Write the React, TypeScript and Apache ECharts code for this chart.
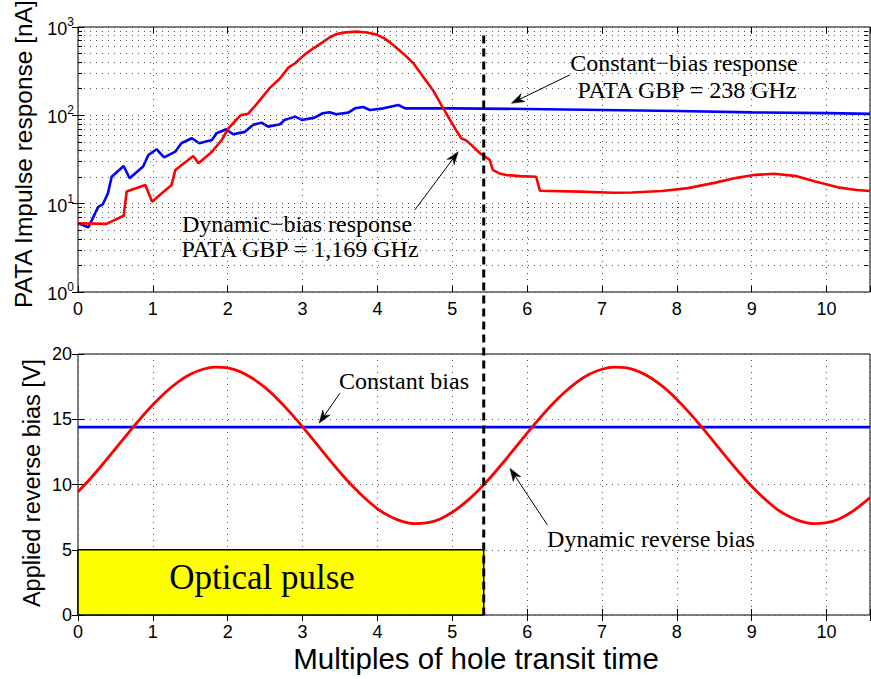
import React, { useEffect, useRef } from "react";
import * as echarts from "echarts";

const SANS = '"Liberation Sans", Arial, Helvetica, sans-serif';
const SERIF = '"Liberation Serif", "Times New Roman", Times, serif';

// Shared horizontal axis: multiples of hole transit time
const TIME_MAX = 10.58;
const TIME_STEP = 1;

// Upper panel: PATA impulse response [nA] on a log scale
const RESP_MIN = 1;
const RESP_MAX = 1000;

const constRespTime = [
  0.0, 0.14, 0.27, 0.33, 0.4, 0.45, 0.61, 0.69, 0.87, 0.94, 1.05, 1.15, 1.3, 1.38, 1.52, 1.62,
  1.79, 1.85, 1.98, 2.07, 2.23, 2.34, 2.45, 2.54, 2.7, 2.76, 2.9, 2.99, 3.16, 3.27, 3.36, 3.45,
  3.61, 3.7, 3.81, 3.9, 4.08, 4.28, 4.37, 5.0, 6.0, 7.0, 8.0, 9.0, 10.0, 10.58,
];
const constRespCurrent = [
  6.0, 5.4, 9.2, 9.8, 13.1, 20.2, 26.7, 19.4, 26.3, 35.6, 41.3, 33.5, 38.8, 48.3, 55, 48.3,
  52.6, 62.7, 69.5, 61, 65, 78, 82.6, 74.5, 79.3, 88.7, 96.7, 88.7, 94.2, 105.6, 108.5, 102.8,
  107.4, 120, 124.4, 115, 120, 131, 120, 120, 118, 115, 112, 108, 106, 104,
];

const dynRespTime = [
  0.0, 0.38, 0.61, 0.65, 0.9, 0.99, 1.12, 1.25, 1.3, 1.54, 1.61, 1.79, 1.92, 2.01, 2.17, 2.27,
  2.36, 2.56, 2.7, 2.81, 2.9, 3.02, 3.14, 3.27, 3.36, 3.45, 3.58, 3.72, 3.86, 3.99, 4.1, 4.21,
  4.35, 4.48, 4.61, 4.74, 4.86, 4.97, 5.05, 5.12, 5.19, 5.28, 5.37, 5.5, 5.54, 5.63, 5.72, 5.9,
  6.12, 6.17, 6.7, 7.15, 7.4, 7.8, 8.15, 8.5, 8.8, 9.05, 9.3, 9.6, 9.85, 10.15, 10.4, 10.58,
];
const dynRespCurrent = [
  6.0, 5.9, 7.3, 13.7, 16.3, 10.5, 13.1, 16.3, 24.1, 34.7, 28.7, 38.8, 52.6, 71.4, 100, 104,
  126, 203, 263, 347, 389, 480, 570, 673, 760, 830, 870, 887, 865, 820, 739, 627,
  496, 389, 274, 194, 128, 88.7, 68, 55, 51.7, 44, 37.2, 31.3, 24.1, 22, 21.1, 20.5,
  20.2, 14.0, 13.7, 13.3, 13.4, 13.9, 15.0, 17.2, 19.6, 21.2, 21.8, 20.5, 17.8, 15.3, 14.3, 13.9,
];

// Lower panel: applied reverse bias [V]
const BIAS_MIN = 0;
const BIAS_MAX = 20;
const BIAS_STEP = 5;

const constBiasTime = [0, TIME_MAX];
const constBiasVolts = [14.4, 14.4];

const dynBiasTime = [
  0.0, 0.17, 0.33, 0.5, 0.67, 0.83, 1.0, 1.17, 1.33, 1.5, 1.67, 1.83, 2.0, 2.17, 2.33, 2.5,
  2.67, 2.83, 3.0, 3.17, 3.33, 3.5, 3.67, 3.83, 4.0, 4.17, 4.33, 4.5, 4.67, 4.83, 5.0, 5.17,
  5.33, 5.5, 5.66, 5.83, 6.0, 6.16, 6.33, 6.5, 6.66, 6.83, 7.0, 7.16, 7.33, 7.5, 7.66, 7.83,
  8.0, 8.16, 8.33, 8.5, 8.66, 8.83, 9.0, 9.16, 9.33, 9.5, 9.66, 9.83, 10.0, 10.16, 10.33, 10.5, 10.58,
];
const dynBiasVolts = [
  9.45, 10.48, 11.55, 12.74, 13.94, 15.03, 16.11, 17.07, 17.83, 18.44, 18.83, 18.99, 18.93, 18.63, 18.14, 17.42,
  16.52, 15.55, 14.42, 13.23, 12.1, 10.94, 9.86, 8.96, 8.14, 7.54, 7.17, 7.0, 7.07, 7.34, 7.87, 8.61,
  9.45, 10.48, 11.55, 12.74, 13.94, 15.03, 16.11, 17.07, 17.83, 18.44, 18.83, 18.99, 18.93, 18.63, 18.14, 17.42,
  16.52, 15.55, 14.42, 13.23, 12.1, 10.94, 9.86, 8.96, 8.14, 7.54, 7.17, 7.0, 7.07, 7.34, 7.87, 8.61, 9.01,
];

// Optical pulse window and its end marker
const PULSE_START = 0;
const PULSE_END = 5.42;
const PULSE_LEVEL = 5;
const MARKER_TOP_RESP = 800;

// Annotation arrows (tail -> head), in data units of their panel
const arrowSpecs = [
  { panel: 0, from: [6.57, 287], to: [5.79, 137] },
  { panel: 0, from: [4.5, 8.5], to: [5.08, 38.8] },
  { panel: 1, from: [3.5, 17.0], to: [3.22, 14.7] },
  { panel: 1, from: [6.27, 6.9], to: [5.77, 11.24] },
];

const annotationTexts = [
  { text: "Constant\u2212bias response", x: 684, y: 62.5 },
  { text: "PATA GBP = 238 GHz", x: 687, y: 89.5 },
  { text: "Dynamic\u2212bias response", x: 297, y: 224 },
  { text: "PATA GBP = 1,169 GHz", x: 300, y: 249 },
  { text: "Constant bias", x: 404, y: 381 },
  { text: "Dynamic reverse bias", x: 651, y: 539 },
];

const pairs = (xs: number[], ys: number[]) => xs.map((x, i) => [x, ys[i]]);

const DOT = { color: "#555", width: 1, type: [1, 5] as any };
const TICK = { color: "#000", width: 1 };

const logMinorValues: number[] = [];
for (let dec = RESP_MIN; dec < RESP_MAX; dec *= 10) {
  for (let m = 2; m <= 9; m++) logMinorValues.push(dec * m);
}

const integerLabel = (v: number) => (Math.abs(v - Math.round(v)) < 1e-9 ? String(Math.round(v)) : "");

function timeAxis(gridIndex: number, top: boolean) {
  return {
    type: "value",
    gridIndex,
    position: top ? "top" : "bottom",
    min: 0,
    max: TIME_MAX,
    interval: TIME_STEP,
    axisLine: { show: false },
    axisTick: { show: true, inside: true, length: 6, lineStyle: TICK },
    axisLabel: top
      ? { show: false }
      : { show: true, formatter: integerLabel, margin: 8, color: "#000", fontFamily: SANS, fontSize: 18 },
    splitLine: { show: !top, lineStyle: DOT },
  };
}

function buildOption() {
  const minorTickLen = 0.075;
  const helperMarks: any[] = [];
  logMinorValues.forEach((v) => {
    helperMarks.push({ yAxis: v, lineStyle: DOT });
    helperMarks.push([
      { coord: [0, v], lineStyle: TICK },
      { coord: [minorTickLen, v] },
    ]);
    helperMarks.push([
      { coord: [TIME_MAX - minorTickLen, v], lineStyle: TICK },
      { coord: [TIME_MAX, v] },
    ]);
  });

  return {
    animation: false,
    backgroundColor: "#ffffff",
    grid: [
      { left: 78, top: 27, width: 792, height: 265, show: true, borderColor: "#000", borderWidth: 1, backgroundColor: "transparent", outerBoundsMode: "none" },
      { left: 78, top: 354, width: 792, height: 261, show: true, borderColor: "#000", borderWidth: 1, backgroundColor: "transparent", outerBoundsMode: "none" },
    ],
    xAxis: [timeAxis(0, false), timeAxis(1, false), timeAxis(0, true), timeAxis(1, true)],
    yAxis: [
      {
        type: "log",
        logBase: 10,
        gridIndex: 0,
        min: RESP_MIN,
        max: RESP_MAX,
        axisLine: { show: false },
        axisTick: { show: true, inside: true, length: 6, lineStyle: TICK },
        splitLine: { show: true, lineStyle: DOT },
        axisLabel: {
          margin: 4,
          formatter: (v: number) => `{b|10}{e|${Math.round(Math.log10(v))}}`,
          rich: {
            b: { fontSize: 18, fontFamily: SANS, color: "#000", padding: [4, 0, 0, 0] },
            e: { fontSize: 12, fontFamily: SANS, color: "#000", verticalAlign: "top" },
          },
        },
      },
      {
        type: "value",
        gridIndex: 1,
        min: BIAS_MIN,
        max: BIAS_MAX,
        interval: BIAS_STEP,
        axisLine: { show: false },
        axisTick: { show: true, inside: true, length: 6, lineStyle: TICK },
        splitLine: { show: true, lineStyle: DOT },
        axisLabel: { margin: 6, color: "#000", fontFamily: SANS, fontSize: 18 },
      },
      {
        type: "log",
        logBase: 10,
        gridIndex: 0,
        position: "right",
        min: RESP_MIN,
        max: RESP_MAX,
        axisLine: { show: false },
        axisTick: { show: true, inside: true, length: 6, lineStyle: TICK },
        splitLine: { show: false },
        axisLabel: { show: false },
      },
      {
        type: "value",
        gridIndex: 1,
        position: "right",
        min: BIAS_MIN,
        max: BIAS_MAX,
        interval: BIAS_STEP,
        axisLine: { show: false },
        axisTick: { show: true, inside: true, length: 6, lineStyle: TICK },
        splitLine: { show: false },
        axisLabel: { show: false },
      },
    ],
    series: [
      {
        name: "log minor grid",
        type: "line",
        xAxisIndex: 0,
        yAxisIndex: 0,
        data: [[0, RESP_MIN]],
        symbol: "none",
        silent: true,
        z: 1,
        lineStyle: { width: 0 },
        markLine: {
          silent: true,
          symbol: "none",
          label: { show: false },
          emphasis: { disabled: true },
          data: helperMarks,
        },
      },
      {
        name: "Constant-bias response",
        type: "line",
        xAxisIndex: 0,
        yAxisIndex: 0,
        data: pairs(constRespTime, constRespCurrent),
        symbol: "none",
        z: 3,
        lineStyle: { color: "#0000ff", width: 2.6 },
      },
      {
        name: "Dynamic-bias response",
        type: "line",
        xAxisIndex: 0,
        yAxisIndex: 0,
        data: pairs(dynRespTime, dynRespCurrent),
        symbol: "none",
        z: 3,
        lineStyle: { color: "#ff0000", width: 2.6 },
      },
      {
        name: "Optical pulse",
        type: "line",
        xAxisIndex: 1,
        yAxisIndex: 1,
        data: [],
        symbol: "none",
        z: 2,
        markArea: {
          silent: true,
          itemStyle: { color: "#ffff00", borderColor: "#000", borderWidth: 1.5 },
          label: { show: false },
          data: [[{ xAxis: PULSE_START, yAxis: BIAS_MIN }, { xAxis: PULSE_END, yAxis: PULSE_LEVEL }]],
        },
      },
      {
        name: "Constant bias",
        type: "line",
        xAxisIndex: 1,
        yAxisIndex: 1,
        data: pairs(constBiasTime, constBiasVolts),
        symbol: "none",
        z: 3,
        lineStyle: { color: "#0000ff", width: 2.8 },
      },
      {
        name: "Dynamic reverse bias",
        type: "line",
        xAxisIndex: 1,
        yAxisIndex: 1,
        data: pairs(dynBiasTime, dynBiasVolts),
        symbol: "none",
        smooth: 0.3,
        z: 3,
        lineStyle: { color: "#ff0000", width: 2.8 },
      },
    ],
  };
}

function arrowShapes(p0: number[], p1: number[]) {
  const dx = p1[0] - p0[0];
  const dy = p1[1] - p0[1];
  const len = Math.hypot(dx, dy);
  const ux = dx / len;
  const uy = dy / len;
  const L = 13;
  const W = 4.5;
  const N = 9;
  const bx = p1[0] - ux * L;
  const by = p1[1] - uy * L;
  const nx = -uy;
  const ny = ux;
  const left = [bx + nx * W, by + ny * W];
  const right = [bx - nx * W, by - ny * W];
  const notch = [p1[0] - ux * N, p1[1] - uy * N];
  return [
    { type: "line", z: 20, shape: { x1: p0[0], y1: p0[1], x2: notch[0], y2: notch[1] }, style: { stroke: "#000", lineWidth: 1 } },
    { type: "polygon", z: 20, shape: { points: [p1, left, notch, right] }, style: { fill: "#000", stroke: "#000", lineWidth: 0.5 } },
  ];
}

function buildOverlay(chart: echarts.ECharts) {
  const toPx = (panel: number, v: number[]) =>
    chart.convertToPixel({ xAxisIndex: panel, yAxisIndex: panel } as any, v) as number[];

  const elements: any[] = [];

  const mTop = toPx(0, [PULSE_END, MARKER_TOP_RESP]);
  const mBottom = toPx(1, [PULSE_END, BIAS_MIN]);
  elements.push({
    type: "line",
    z: 30,
    shape: { x1: mTop[0], y1: mTop[1], x2: mBottom[0], y2: mBottom[1] },
    style: { stroke: "#000", lineWidth: 3, lineDash: [8, 5] },
  });

  arrowSpecs.forEach((a) => {
    elements.push(...arrowShapes(toPx(a.panel, a.from), toPx(a.panel, a.to)));
  });

  annotationTexts.forEach((t) => {
    elements.push({
      type: "text",
      z: 25,
      x: t.x,
      y: t.y,
      style: { text: t.text, fill: "#000", font: `24px ${SERIF}`, textAlign: "center", textVerticalAlign: "middle" },
    });
  });

  elements.push({
    type: "text",
    z: 25,
    x: 262,
    y: 577,
    style: { text: "Optical pulse", fill: "#000", font: `35px ${SERIF}`, textAlign: "center", textVerticalAlign: "middle" },
  });

  elements.push({
    type: "text",
    z: 25,
    x: 23,
    y: 154,
    rotation: Math.PI / 2,
    style: { text: "PATA Impulse response [nA]", fill: "#000", font: `24.5px ${SANS}`, textAlign: "center", textVerticalAlign: "middle" },
  });
  elements.push({
    type: "text",
    z: 25,
    x: 32,
    y: 483,
    rotation: Math.PI / 2,
    style: { text: "Applied reverse bias [V]", fill: "#000", font: `23.5px ${SANS}`, textAlign: "center", textVerticalAlign: "middle" },
  });
  elements.push({
    type: "text",
    z: 25,
    x: 476,
    y: 658,
    style: { text: "Multiples of hole transit time", fill: "#000", font: `29.5px ${SANS}`, textAlign: "center", textVerticalAlign: "middle" },
  });

  return elements;
}

export default function App() {
  const ref = useRef<HTMLDivElement>(null);

  useEffect(() => {
    const el = ref.current;
    if (!el) return;
    const chart = echarts.init(el, null, { renderer: "svg" });
    chart.setOption(buildOption() as any);
    chart.setOption({ graphic: buildOverlay(chart) } as any);
    return () => chart.dispose();
  }, []);

  return (
    <div
      ref={ref}
      style={{ position: "absolute", left: 0, top: 0, width: 871, height: 679, background: "#fff" }}
    />
  );
}
